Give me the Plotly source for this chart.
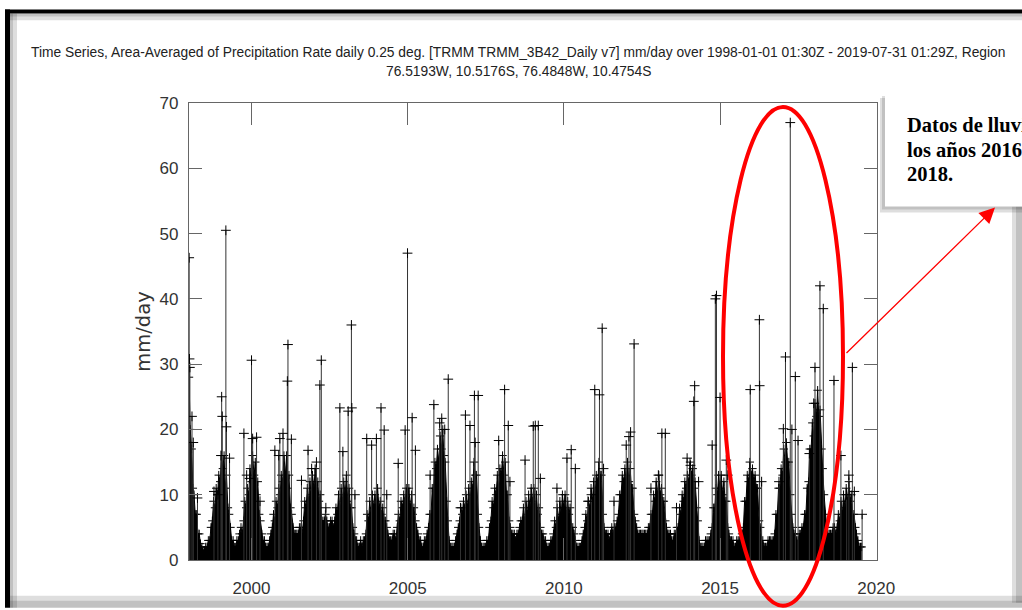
import pandas as pd
import plotly.graph_objects as go

# ── Precipitación diaria (mm/day), nivel de la masa por quincena (1 y 15 de cada mes) ──
mm_1998 = [28, 20, 17, 11, 10, 7, 7, 4, 4, 2.5, 2, 1.5, 1.5, 2, 2, 3, 3, 5, 6, 9, 8, 11, 10, 13]
mm_1999 = [12, 16, 14, 16, 11, 13, 8, 7, 5, 3, 3, 2, 2, 3, 3, 4, 5, 4, 6, 9, 8, 11, 10, 14]
mm_2000 = [12, 16, 13, 15, 10, 12, 7, 6, 4, 3, 3, 2, 2, 2, 3, 4, 5, 7, 6, 9, 8, 11, 10, 13]
mm_2001 = [12, 16, 13, 16, 11, 13, 8, 7, 5, 4, 4, 4, 4, 5, 5, 4, 6, 9, 8, 11, 9, 12, 10, 13]
mm_2002 = [11, 14, 10, 12, 9, 10, 6, 6, 6, 7, 6, 5, 5, 6, 6, 5, 6, 8, 7, 10, 8, 11, 9, 12]
mm_2003 = [10, 13, 9, 11, 8, 8, 5, 4, 3, 3, 2, 2, 3, 2, 3, 3, 4, 7, 6, 9, 7, 10, 8, 10]
mm_2004 = [8, 11, 8, 9, 7, 8, 6, 6, 5, 4, 3, 3, 3, 4, 4, 3, 5, 7, 6, 9, 8, 10, 9, 11]
mm_2005 = [9, 11, 8, 10, 7, 8, 6, 5, 4, 3, 3, 2, 2, 3, 3, 4, 5, 7, 7, 11, 11, 15, 14, 17]
mm_2006 = [15, 19, 17, 20, 16, 15, 9, 6, 3, 2, 2, 2, 2, 3, 4, 5, 6, 8, 7, 9, 8, 10, 8, 11]
mm_2007 = [9, 12, 11, 15, 13, 13, 7, 5, 3, 2, 2, 2, 2, 3, 3, 5, 6, 9, 8, 11, 10, 13, 11, 14]
mm_2008 = [13, 16, 13, 15, 10, 10, 6, 5, 4, 4, 4, 3, 4, 4, 5, 6, 6, 8, 6, 9, 7, 10, 8, 11]
mm_2009 = [9, 11, 8, 10, 7, 8, 5, 4, 4, 3, 3, 2, 2, 2, 3, 3, 4, 6, 5, 8, 6, 9, 7, 10]
mm_2010 = [8, 10, 7, 9, 7, 8, 5, 5, 4, 3, 2, 2, 2, 2, 3, 4, 5, 7, 6, 9, 8, 11, 9, 12]
mm_2011 = [10, 13, 12, 15, 13, 13, 7, 5, 4, 4, 4, 3, 4, 5, 4, 5, 5, 6, 7, 10, 10, 13, 12, 14]
mm_2012 = [12, 15, 12, 14, 11, 11, 7, 6, 5, 4, 4, 4, 4, 4, 4, 4, 4, 5, 5, 7, 7, 10, 9, 12]
mm_2013 = [10, 13, 10, 11, 9, 9, 6, 5, 4, 4, 4, 3, 3, 4, 4, 5, 5, 8, 7, 10, 9, 12, 11, 13]
mm_2014 = [12, 15, 13, 14, 11, 12, 8, 6, 3, 2, 2, 2, 2, 3, 3, 3, 3, 4, 5, 8, 8, 11, 10, 13]
mm_2015 = [11, 13, 10, 12, 9, 9, 5, 4, 3, 3, 3, 2, 2, 3, 3, 3, 3, 4, 5, 9, 9, 13, 12, 15]
mm_2016 = [13, 14, 12, 13, 11, 11, 6, 5, 3, 3, 2, 2, 2, 3, 3, 3, 3, 3, 4, 7, 7, 11, 11, 14]
mm_2017 = [13, 17, 15, 18, 15, 15, 10, 7, 5, 4, 4, 3, 3, 4, 4, 5, 5, 7, 7, 11, 12, 17, 17, 21]
mm_2018 = [19, 24, 22, 26, 22, 23, 17, 14, 10, 7, 5, 4, 4, 4, 4, 5, 5, 4, 5, 7, 6, 9, 7, 10]
mm_2019 = [8, 11, 9, 12, 9, 10, 7, 7, 5, 4, 3, 2, 2, 2]

# ── Días con picos aislados por encima de la masa ──────────
fechas_picos = [
    "1998-01-03", "1998-01-07", "1998-01-11", "1998-02-05", "1998-02-20", "1998-04-10",
    "1998-10-20", "1998-12-05", "1999-01-10", "1999-01-18", "1999-01-25", "1999-03-08",
    "1999-03-15", "1999-04-20", "1999-10-05", "1999-11-06", "1999-12-10", "2000-01-02",
    "2000-01-15", "2000-03-01", "2000-04-10", "2000-10-01", "2000-11-15", "2000-11-28",
    "2001-01-04", "2001-02-24", "2001-03-03", "2001-04-12", "2001-08-08", "2001-10-24",
    "2001-12-05", "2002-01-30", "2002-03-11", "2002-03-28", "2002-05-20", "2002-10-31",
    "2002-12-05", "2003-02-05", "2003-03-15", "2003-03-20", "2003-04-25", "2003-09-10",
    "2003-11-06", "2004-01-01", "2004-02-24", "2004-04-01", "2004-05-01", "2004-09-12",
    "2004-12-02", "2004-12-30", "2005-02-22", "2005-04-01", "2005-09-20", "2005-11-03",
    "2006-01-10", "2006-02-03", "2006-03-10", "2006-04-20", "2006-09-10", "2006-11-07",
    "2006-12-30", "2007-02-20", "2007-03-01", "2007-04-05", "2007-12-01", "2008-02-08",
    "2008-03-22", "2008-04-10", "2008-10-04", "2009-01-08", "2009-02-01", "2009-03-08",
    "2009-04-01", "2009-10-12", "2010-02-06", "2010-03-28", "2010-05-15", "2010-10-10",
    "2010-11-20", "2010-12-28", "2011-02-21", "2011-03-25", "2011-04-10", "2011-08-10",
    "2011-12-31", "2012-02-01", "2012-02-20", "2012-04-01", "2012-10-15", "2013-01-10",
    "2013-02-20", "2013-04-01", "2013-08-10", "2013-12-12", "2014-01-20", "2014-02-28",
    "2014-03-10", "2014-04-25", "2014-10-01", "2014-11-07", "2014-11-20", "2015-01-01",
    "2015-03-15", "2015-04-01", "2015-12-20", "2016-04-05", "2016-04-08", "2016-05-01",
    "2016-11-20", "2017-01-10", "2017-02-04", "2017-04-01", "2017-04-20", "2017-05-30",
    "2017-07-01", "2017-11-10", "2017-12-31", "2018-01-15", "2018-03-14", "2018-04-22",
    "2018-08-25", "2018-11-14", "2019-01-20", "2019-02-15", "2019-03-28", "2019-04-20",
    "2019-07-20",
]
valores_picos = [
    46.3, 30.8, 29.5, 22, 18, 9.5,
    10.5, 10, 16, 25, 22, 50.5,
    20.4, 15.6, 19.4, 13, 12.5, 30.6,
    18.6, 18.8, 9, 16.8, 16, 18.6,
    19.4, 27.4, 33, 18.5, 12.2, 16.8,
    14, 15, 26.8, 30.6, 8, 23.3,
    16.6, 22.8, 36, 23.3, 10, 18.6,
    17.6, 18.6, 23.3, 19.9, 10, 14.8,
    19.9, 47, 21.8, 16.8, 13, 23.8,
    21, 21.7, 20, 27.7, 8, 22.2,
    20.6, 25.2, 18, 25.2, 18.3, 26.1,
    20.6, 12, 15.3, 20.5, 20.6, 20.6,
    12.5, 11, 15.6, 16.9, 14, 9,
    10, 26.1, 25.3, 35.5, 14, 9,
    17.6, 18.9, 19.6, 33.1, 11, 13,
    19.4, 19.4, 8, 15.6, 14.5, 24.3,
    26.7, 12, 17.6, 40, 40.5, 24.9,
    15.3, 13, 26.1, 36.8, 26.7, 12,
    12, 20.1, 31.1, 67, 20, 28.1,
    18.3, 16.3, 24, 29.5, 42, 38.5,
    27.5, 16, 10, 13, 29.5, 10.5,
    7,
]

anios_tick = [2000, 2005, 2010, 2015, 2020]

TITULO_1 = ("Time Series, Area-Averaged of Precipitation Rate daily 0.25 deg. "
            "[TRMM TRMM_3B42_Daily v7] mm/day over 1998-01-01 01:30Z - "
            "2019-07-31 01:29Z, Region")
TITULO_2 = "76.5193W, 10.5176S, 76.4848W, 10.4754S"
NOTA = ["Datos de lluvia de", "los años 2016 al", "2018."]

# ── Geometría en píxeles del área de trazado ──────────────
W, H = 1022, 610
L, R, T, B = 189, 877, 103, 562


def px(x):
    return (x - L) / (R - L)


def py(y):
    return (B - y) / (B - T)


serie = [v for a in (mm_1998, mm_1999, mm_2000, mm_2001, mm_2002, mm_2003,
                     mm_2004, mm_2005, mm_2006, mm_2007, mm_2008, mm_2009,
                     mm_2010, mm_2011, mm_2012, mm_2013, mm_2014, mm_2015,
                     mm_2016, mm_2017, mm_2018, mm_2019) for v in a]
fechas = pd.date_range("1998-01-01", periods=len(serie), freq="SMS")

cruz = dict(symbol="cross-thin", size=6, color="black",
            line=dict(width=1, color="black"))

fig = go.Figure()
fig.add_trace(go.Scatter(
    x=fechas, y=serie, mode="lines+markers",
    fill="tozeroy", fillcolor="black",
    line=dict(color="black", width=1),
    marker=cruz, hoverinfo="skip",
))

# picos como impulsos desde cero
xs, ys = [], []
for f, v in zip(fechas_picos, valores_picos):
    xs += [f, f, None]
    ys += [0, v, None]
fig.add_trace(go.Scatter(x=xs, y=ys, mode="lines",
                         line=dict(color="#333333", width=1), hoverinfo="skip"))
fig.add_trace(go.Scatter(x=fechas_picos, y=valores_picos, mode="markers",
                         marker=dict(cruz, size=7), hoverinfo="skip"))

eje = dict(showline=True, linecolor="#666666", linewidth=1.3, mirror="ticks",
           ticks="inside", tickcolor="#666666", tickwidth=1.3,
           showgrid=False, zeroline=False,
           tickfont=dict(family="Liberation Sans Narrow, Liberation Sans",
                         size=17, color="#333333"))

fig.update_layout(
    width=W, height=H, showlegend=False,
    margin=dict(l=L, r=W - R, t=T, b=H - B),
    plot_bgcolor="white", paper_bgcolor="white",
    xaxis=dict(eje, type="date", range=["1998-01-01", "2020-01-10"],
               tickvals=[f"{a}-01-01" for a in anios_tick],
               ticktext=[str(a) for a in anios_tick],
               ticklen=22, ticklabelstandoff=12),
    yaxis=dict(eje, range=[0, 70], dtick=10, ticklen=13, ticklabelstandoff=6,
               title=dict(text="mm/day", standoff=3,
                          font=dict(family="DejaVu Sans", size=19.5,
                                    color="#333333"))),
)

# ── Marco de la captura ───────────────────────────────────
sombra = "rgba(0,0,0,0.13)"
marco = [
    (5, 9, W, 13, "black"), (10, 13, W, 20, sombra), (10, 13, W, 16, sombra),
    (5, 9, 10, H, "black"), (10, 13, 17, H, sombra), (10, 13, 13, H, sombra),
    (10, 598, W, H, sombra), (10, 603, W, H, sombra),
    (1012, 207, W, 605, sombra), (1016, 207, W, 605, sombra),
    # caja de la nota con su sombra
    (880, 98, W + 10, 213, sombra), (882, 96, W + 10, 210, sombra),
    (885, 93, W + 10, 207, "white"),
]
for x0, y0, x1, y1, c in marco:
    fig.add_shape(type="rect", xref="paper", yref="paper", layer="above",
                  x0=px(x0), x1=px(x1), y0=py(y1), y1=py(y0),
                  line_width=0, fillcolor=c)

# elipse roja sobre 2016-2018
fig.add_shape(type="circle", xref="paper", yref="paper", layer="above",
              x0=px(723), x1=px(843), y0=py(608), y1=py(107),
              line=dict(color="red", width=4))

# título
for texto, y in ((TITULO_1, 43), (TITULO_2, 62)):
    fig.add_annotation(text=texto, xref="paper", yref="paper",
                       x=px(518), y=py(y), showarrow=False,
                       font=dict(family="Liberation Sans", size=13.8,
                                 color="#222222"))

# nota (una línea por anotación) y flecha
for texto, y in zip(NOTA, (112, 137, 161)):
    fig.add_annotation(text=f"<b>{texto}</b>", xref="paper", yref="paper",
                       x=px(905), y=py(y), xanchor="left", yanchor="top",
                       showarrow=False,
                       font=dict(family="Liberation Serif", size=20.5,
                                 color="black"))
fig.add_annotation(text="", xref="paper", yref="paper",
                   x=px(995), y=py(208), ax=-150, ay=147,
                   showarrow=True, arrowhead=2, arrowsize=2.4,
                   arrowwidth=1.3, arrowcolor="red")

fig.write_html("out.html", config={"displayModeBar": False},
               post_script="document.body.style.margin='0';")
